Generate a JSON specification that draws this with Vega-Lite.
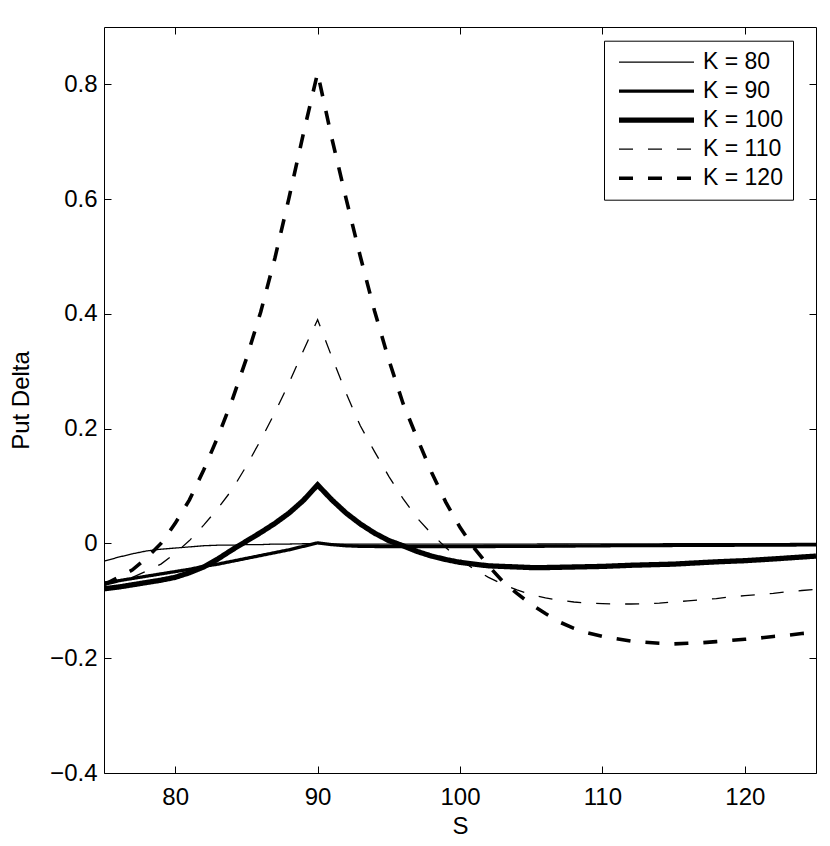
{
  "$schema": "https://vega.github.io/schema/vega-lite/v6.json",
  "description": "Put Delta against S for strikes K = 80 to 120",
  "width": 712,
  "height": 746,
  "autosize": {"type": "none"},
  "padding": {"left": 104, "top": 27, "right": 14, "bottom": 73},
  "config": {
    "view": {"stroke": "black", "strokeWidth": 1},
    "font": "Liberation Sans",
    "axis": {
      "grid": false,
      "domain": false,
      "tickColor": "black",
      "tickWidth": 1,
      "tickSize": 7,
      "offset": -7,
      "labelFont": "Liberation Sans",
      "labelFontSize": 24,
      "labelColor": "black",
      "titleFont": "Liberation Sans",
      "titleFontSize": 24,
      "titleFontWeight": "normal",
      "titleColor": "black"
    }
  },
  "data": {
    "values": [
      {"S": 75, "K": 80, "d": -0.031}, {"S": 76, "K": 80, "d": -0.024}, {"S": 77, "K": 80, "d": -0.018},
      {"S": 78, "K": 80, "d": -0.013}, {"S": 79, "K": 80, "d": -0.010}, {"S": 80, "K": 80, "d": -0.008},
      {"S": 81, "K": 80, "d": -0.006}, {"S": 82, "K": 80, "d": -0.004}, {"S": 83, "K": 80, "d": -0.003},
      {"S": 84, "K": 80, "d": -0.003}, {"S": 85, "K": 80, "d": -0.002}, {"S": 86, "K": 80, "d": -0.002},
      {"S": 87, "K": 80, "d": -0.001}, {"S": 88, "K": 80, "d": -0.001}, {"S": 89, "K": 80, "d": -0.0005},
      {"S": 90, "K": 80, "d": 0.0}, {"S": 91, "K": 80, "d": -0.001}, {"S": 92, "K": 80, "d": -0.001},
      {"S": 95, "K": 80, "d": -0.001}, {"S": 100, "K": 80, "d": -0.001}, {"S": 105, "K": 80, "d": -0.001},
      {"S": 110, "K": 80, "d": -0.0008}, {"S": 115, "K": 80, "d": -0.0005}, {"S": 120, "K": 80, "d": -0.0003},
      {"S": 125, "K": 80, "d": 0.0},

      {"S": 75, "K": 90, "d": -0.069}, {"S": 76, "K": 90, "d": -0.065}, {"S": 77, "K": 90, "d": -0.061},
      {"S": 78, "K": 90, "d": -0.057}, {"S": 79, "K": 90, "d": -0.053}, {"S": 80, "K": 90, "d": -0.049},
      {"S": 81, "K": 90, "d": -0.045}, {"S": 82, "K": 90, "d": -0.040}, {"S": 83, "K": 90, "d": -0.036},
      {"S": 84, "K": 90, "d": -0.031}, {"S": 85, "K": 90, "d": -0.026}, {"S": 86, "K": 90, "d": -0.021},
      {"S": 87, "K": 90, "d": -0.016}, {"S": 88, "K": 90, "d": -0.011}, {"S": 89, "K": 90, "d": -0.005},
      {"S": 90, "K": 90, "d": 0.001}, {"S": 91, "K": 90, "d": -0.002}, {"S": 92, "K": 90, "d": -0.004},
      {"S": 93, "K": 90, "d": -0.005}, {"S": 95, "K": 90, "d": -0.0055}, {"S": 100, "K": 90, "d": -0.0055},
      {"S": 105, "K": 90, "d": -0.005}, {"S": 110, "K": 90, "d": -0.004}, {"S": 115, "K": 90, "d": -0.0035},
      {"S": 120, "K": 90, "d": -0.003}, {"S": 125, "K": 90, "d": -0.0025},

      {"S": 75, "K": 100, "d": -0.079}, {"S": 76, "K": 100, "d": -0.076}, {"S": 77, "K": 100, "d": -0.072},
      {"S": 78, "K": 100, "d": -0.068}, {"S": 79, "K": 100, "d": -0.064}, {"S": 80, "K": 100, "d": -0.059},
      {"S": 81, "K": 100, "d": -0.051}, {"S": 82, "K": 100, "d": -0.041}, {"S": 83, "K": 100, "d": -0.027},
      {"S": 84, "K": 100, "d": -0.011}, {"S": 85, "K": 100, "d": 0.004}, {"S": 86, "K": 100, "d": 0.019},
      {"S": 87, "K": 100, "d": 0.035}, {"S": 88, "K": 100, "d": 0.053}, {"S": 89, "K": 100, "d": 0.075},
      {"S": 90, "K": 100, "d": 0.102}, {"S": 91, "K": 100, "d": 0.076}, {"S": 92, "K": 100, "d": 0.053},
      {"S": 93, "K": 100, "d": 0.034}, {"S": 94, "K": 100, "d": 0.018}, {"S": 95, "K": 100, "d": 0.005},
      {"S": 96, "K": 100, "d": -0.004}, {"S": 97, "K": 100, "d": -0.014}, {"S": 98, "K": 100, "d": -0.022},
      {"S": 99, "K": 100, "d": -0.028}, {"S": 100, "K": 100, "d": -0.033}, {"S": 101, "K": 100, "d": -0.036},
      {"S": 102, "K": 100, "d": -0.039}, {"S": 103, "K": 100, "d": -0.040}, {"S": 104, "K": 100, "d": -0.041},
      {"S": 105, "K": 100, "d": -0.042}, {"S": 106, "K": 100, "d": -0.042}, {"S": 108, "K": 100, "d": -0.041},
      {"S": 110, "K": 100, "d": -0.040}, {"S": 112, "K": 100, "d": -0.038}, {"S": 115, "K": 100, "d": -0.036},
      {"S": 118, "K": 100, "d": -0.032}, {"S": 120, "K": 100, "d": -0.030}, {"S": 122, "K": 100, "d": -0.027},
      {"S": 125, "K": 100, "d": -0.022},

      {"S": 75, "K": 110, "d": -0.073}, {"S": 76, "K": 110, "d": -0.067}, {"S": 77, "K": 110, "d": -0.059},
      {"S": 78, "K": 110, "d": -0.048}, {"S": 79, "K": 110, "d": -0.036}, {"S": 80, "K": 110, "d": -0.017},
      {"S": 81, "K": 110, "d": 0.005}, {"S": 82, "K": 110, "d": 0.032}, {"S": 83, "K": 110, "d": 0.061},
      {"S": 84, "K": 110, "d": 0.094}, {"S": 85, "K": 110, "d": 0.135}, {"S": 86, "K": 110, "d": 0.180},
      {"S": 87, "K": 110, "d": 0.228}, {"S": 88, "K": 110, "d": 0.280}, {"S": 89, "K": 110, "d": 0.336},
      {"S": 90, "K": 110, "d": 0.390}, {"S": 91, "K": 110, "d": 0.325}, {"S": 92, "K": 110, "d": 0.262},
      {"S": 93, "K": 110, "d": 0.205}, {"S": 94, "K": 110, "d": 0.160}, {"S": 95, "K": 110, "d": 0.117},
      {"S": 96, "K": 110, "d": 0.078}, {"S": 97, "K": 110, "d": 0.044}, {"S": 98, "K": 110, "d": 0.017},
      {"S": 99, "K": 110, "d": -0.007}, {"S": 100, "K": 110, "d": -0.028}, {"S": 101, "K": 110, "d": -0.045},
      {"S": 102, "K": 110, "d": -0.059}, {"S": 103, "K": 110, "d": -0.071}, {"S": 104, "K": 110, "d": -0.081},
      {"S": 105, "K": 110, "d": -0.089}, {"S": 106, "K": 110, "d": -0.095}, {"S": 107, "K": 110, "d": -0.099},
      {"S": 108, "K": 110, "d": -0.102}, {"S": 109, "K": 110, "d": -0.104}, {"S": 110, "K": 110, "d": -0.105},
      {"S": 111, "K": 110, "d": -0.1055}, {"S": 112, "K": 110, "d": -0.1055}, {"S": 113, "K": 110, "d": -0.105},
      {"S": 114, "K": 110, "d": -0.104}, {"S": 115, "K": 110, "d": -0.102}, {"S": 116, "K": 110, "d": -0.100},
      {"S": 117, "K": 110, "d": -0.098}, {"S": 118, "K": 110, "d": -0.096}, {"S": 119, "K": 110, "d": -0.093},
      {"S": 120, "K": 110, "d": -0.091}, {"S": 121, "K": 110, "d": -0.089}, {"S": 122, "K": 110, "d": -0.087},
      {"S": 123, "K": 110, "d": -0.084}, {"S": 124, "K": 110, "d": -0.082}, {"S": 125, "K": 110, "d": -0.080},

      {"S": 75, "K": 120, "d": -0.072}, {"S": 76, "K": 120, "d": -0.059}, {"S": 77, "K": 120, "d": -0.046},
      {"S": 78, "K": 120, "d": -0.025}, {"S": 79, "K": 120, "d": 0.0}, {"S": 80, "K": 120, "d": 0.035},
      {"S": 81, "K": 120, "d": 0.076}, {"S": 82, "K": 120, "d": 0.128}, {"S": 83, "K": 120, "d": 0.186},
      {"S": 84, "K": 120, "d": 0.250}, {"S": 85, "K": 120, "d": 0.322}, {"S": 86, "K": 120, "d": 0.403},
      {"S": 87, "K": 120, "d": 0.497}, {"S": 88, "K": 120, "d": 0.603}, {"S": 89, "K": 120, "d": 0.714},
      {"S": 90, "K": 120, "d": 0.820}, {"S": 91, "K": 120, "d": 0.706}, {"S": 92, "K": 120, "d": 0.601},
      {"S": 93, "K": 120, "d": 0.500}, {"S": 94, "K": 120, "d": 0.405}, {"S": 95, "K": 120, "d": 0.320},
      {"S": 96, "K": 120, "d": 0.244}, {"S": 97, "K": 120, "d": 0.183}, {"S": 98, "K": 120, "d": 0.124},
      {"S": 99, "K": 120, "d": 0.072}, {"S": 100, "K": 120, "d": 0.028}, {"S": 101, "K": 120, "d": -0.008},
      {"S": 102, "K": 120, "d": -0.039}, {"S": 103, "K": 120, "d": -0.066}, {"S": 104, "K": 120, "d": -0.087},
      {"S": 105, "K": 120, "d": -0.106}, {"S": 106, "K": 120, "d": -0.122}, {"S": 107, "K": 120, "d": -0.137},
      {"S": 108, "K": 120, "d": -0.148}, {"S": 109, "K": 120, "d": -0.156}, {"S": 110, "K": 120, "d": -0.162},
      {"S": 111, "K": 120, "d": -0.166}, {"S": 112, "K": 120, "d": -0.170}, {"S": 113, "K": 120, "d": -0.172},
      {"S": 114, "K": 120, "d": -0.174}, {"S": 115, "K": 120, "d": -0.175}, {"S": 116, "K": 120, "d": -0.174},
      {"S": 117, "K": 120, "d": -0.173}, {"S": 118, "K": 120, "d": -0.171}, {"S": 119, "K": 120, "d": -0.169},
      {"S": 120, "K": 120, "d": -0.167}, {"S": 121, "K": 120, "d": -0.165}, {"S": 122, "K": 120, "d": -0.162},
      {"S": 123, "K": 120, "d": -0.160}, {"S": 124, "K": 120, "d": -0.157}, {"S": 125, "K": 120, "d": -0.155}
    ]
  },
  "layer": [
    {
      "mark": {"type": "line", "color": "black", "strokeCap": "butt", "strokeJoin": "miter", "clip": true},
      "encoding": {
        "x": {
          "field": "S",
          "type": "quantitative",
          "title": "S",
          "scale": {"domain": [75, 125], "nice": false, "zero": false},
          "axis": {"orient": "bottom", "values": [80, 90, 100, 110, 120], "format": "d", "labelPadding": 12.5, "titlePadding": 5}
        },
        "y": {
          "field": "d",
          "type": "quantitative",
          "title": "Put Delta",
          "scale": {"domain": [-0.4, 0.9], "nice": false, "zero": false},
          "axis": {"orient": "left", "values": [-0.4, -0.2, 0, 0.2, 0.4, 0.6, 0.8], "format": ".1~f", "labelPadding": 7, "titlePadding": 16}
        },
        "strokeDash": {
          "field": "K",
          "type": "ordinal",
          "scale": {
            "domain": [80, 90, 100, 110, 120],
            "range": [[1, 0], [1, 0], [1, 0], [14, 15], [14, 15]]
          },
          "legend": {
            "title": null,
            "orient": "none",
            "legendX": 500,
            "legendY": 13.7,
            "direction": "vertical",
            "fillColor": "white",
            "strokeColor": "black",
            "cornerRadius": 0,
            "padding": 9.5,
            "rowPadding": 5,
            "symbolType": "stroke",
            "symbolSize": 5625,
            "symbolStrokeColor": "black",
            "labelFont": "Liberation Sans",
            "labelFontSize": 23,
            "labelColor": "black",
            "labelExpr": "'K = ' + datum.label",
            "encode": {
              "symbols": {
                "update": {
                  "x": {"value": 43},
                  "y": {"value": 12},
                  "strokeWidth": {"signal": "scale('strokeWidth', datum.value)"}
                }
              },
              "labels": {
                "update": {
                  "x": {"value": 89.5},
                  "y": {"value": 12}
                }
              }
            }
          }
        },
        "strokeWidth": {
          "field": "K",
          "type": "quantitative",
          "scale": {"type": "threshold", "domain": [85, 95, 105, 115], "range": [1.3, 3.3, 5.3, 1.3, 3.6]},
          "legend": null
        }
      }
    },
    {
      "mark": {"type": "line", "opacity": 0},
      "encoding": {
        "x": {
          "field": "S",
          "type": "quantitative",
          "axis": {"orient": "top", "values": [80, 90, 100, 110, 120], "labels": false, "title": null}
        },
        "y": {
          "field": "d",
          "type": "quantitative",
          "axis": {"orient": "right", "values": [-0.4, -0.2, 0, 0.2, 0.4, 0.6, 0.8], "labels": false, "title": null}
        }
      }
    }
  ],
  "resolve": {"axis": {"x": "independent", "y": "independent"}}
}
